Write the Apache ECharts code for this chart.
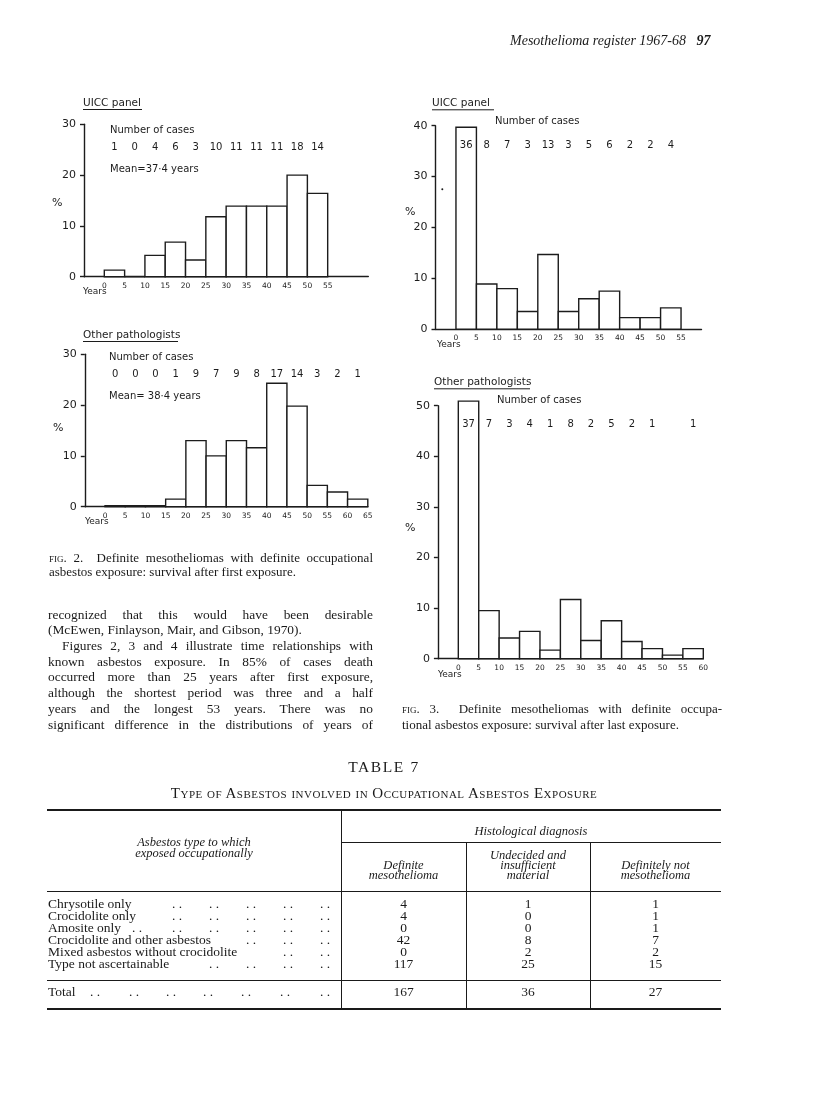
<!DOCTYPE html>
<html>
<head>
<meta charset="utf-8">
<title>Mesothelioma register 1967-68</title>
<script src="https://cdn.jsdelivr.net/npm/echarts@6.0.0/dist/echarts.min.js"></script>
<style>
html, body { margin: 0; padding: 0; background: #fff; }
#page { position: relative; width: 816px; height: 1107px; overflow: hidden; background: #fff; }
#chart { position: absolute; left: 0; top: 0; width: 816px; height: 1107px; }
.ln { position: absolute; white-space: nowrap; height: 16px; line-height: 16px;
      font-family: "Liberation Serif", "DejaVu Serif", serif; font-size: 13.4px; color: #1a1a1a; }
.j { text-align: justify; text-align-last: justify; }
.it { font-style: italic; }
.sc { font-variant: small-caps; }
.rule { position: absolute; background: #1a1a1a; }
</style>
</head>
<body>
<div id="page">
<div id="chart"></div>

<div class="ln it" style="left:510px;top:33px;font-size:14px">Mesothelioma register 1967-68&nbsp;&nbsp;&nbsp;<b>97</b></div>

<div class="ln j" style="left:49px;width:324px;top:550px;font-size:13px"><span class="sc">fig</span>. 2.&nbsp;&nbsp;Definite mesotheliomas with definite occupational</div>
<div class="ln" style="left:49px;width:324px;top:564px;font-size:13px">asbestos exposure: survival after first exposure.</div>

<div class="ln j" style="left:48px;width:325px;top:607px">recognized that this would have been desirable</div>
<div class="ln" style="left:48px;width:325px;top:622px">(McEwen, Finlayson, Mair, and Gibson, 1970).</div>
<div class="ln j" style="left:62px;width:311px;top:638px">Figures 2, 3 and 4 illustrate time relationships with</div>
<div class="ln j" style="left:48px;width:325px;top:654px">known asbestos exposure. In 85% of cases death</div>
<div class="ln j" style="left:48px;width:325px;top:669px">occurred more than 25 years after first exposure,</div>
<div class="ln j" style="left:48px;width:325px;top:685px">although the shortest period was three and a half</div>
<div class="ln j" style="left:48px;width:325px;top:701px">years and the longest 53 years. There was no</div>
<div class="ln j" style="left:48px;width:325px;top:717px">significant difference in the distributions of years of</div>

<div class="ln j" style="left:402px;width:320px;top:701px;font-size:13px"><span class="sc">fig</span>. 3.&nbsp;&nbsp;Definite mesotheliomas with definite occupa-</div>
<div class="ln" style="left:402px;width:320px;top:717px;font-size:13px">tional asbestos exposure: survival after last exposure.</div>
</div>

<script>
// fig. 2 / fig. 3: percentage of cases per 5-year bin
var binsTo55 = [0, 5, 10, 15, 20, 25, 30, 35, 40, 45, 50];
var binsTo60 = [0, 5, 10, 15, 20, 25, 30, 35, 40, 45, 50, 55];
var binsTo65 = [0, 5, 10, 15, 20, 25, 30, 35, 40, 45, 50, 55, 60];

var uiccFirstPct   = [1.3, 0, 4.2, 6.8, 3.3, 11.8, 13.9, 13.9, 13.9, 20.0, 16.4];
var uiccFirstCases = [1, 0, 4, 6, 3, 10, 11, 11, 11, 18, 14];

var otherFirstPct   = [0.2, 0.2, 0.2, 1.5, 13.0, 10.0, 13.0, 11.6, 24.3, 19.8, 4.2, 2.9, 1.5];
var otherFirstCases = [0, 0, 0, 1, 9, 7, 9, 8, 17, 14, 3, 2, 1];

var uiccLastPct   = [39.7, 8.9, 8.0, 3.5, 14.7, 3.5, 6.0, 7.5, 2.3, 2.3, 4.2];
var uiccLastCases = [36, 8, 7, 3, 13, 3, 5, 6, 2, 2, 4];

var otherLastPct   = [50.9, 9.5, 4.1, 5.4, 1.7, 11.7, 3.6, 7.5, 3.4, 2.0, 0.7, 2.0];
var otherLastCases = [37, 7, 3, 4, 1, 8, 2, 5, 2, 1, null, 1];

// table 7
var asbestosTypes = ['Chrysotile only', 'Crocidolite only', 'Amosite only', 'Crocidolite and other asbestos',
                     'Mixed asbestos without crocidolite', 'Type not ascertainable'];
var definiteMeso  = [4, 4, 0, 42, 0, 117];
var undecided     = [1, 0, 0, 8, 2, 25];
var definitelyNot = [1, 1, 1, 7, 2, 15];
var columnTotals  = [167, 36, 27];

var INK = '#1c1c1c';
var FONT = '"DejaVu Sans", sans-serif';
var BIN = 5;

var panels = [
    { bins: binsTo55, pct: uiccFirstPct, cases: uiccFirstCases, grid: { left: 84, top: 124.3, width: 284.3, height: 152.4 },
      xMax: 65, lastTick: 55, yMax: 30, caseLevel: 25.5 },
    { bins: binsTo65, pct: otherFirstPct, cases: otherFirstCases, grid: { left: 84.8, top: 354.3, width: 283, height: 152.4 },
      xMax: 65, lastTick: 65, yMax: 30, caseLevel: 26.1 },
    { bins: binsTo55, pct: uiccLastPct, cases: uiccLastCases, grid: { left: 435.5, top: 125.7, width: 266, height: 203.6 },
      xMax: 60, lastTick: 55, yMax: 40, caseLevel: 36.2 },
    { bins: binsTo60, pct: otherLastPct, cases: otherLastCases, grid: { left: 437.9, top: 405.7, width: 265.4, height: 253 },
      xMax: 60, lastTick: 60, yMax: 50, caseLevel: 46.3 }
];

function renderBin(params, api) {
    var x0 = api.value(0), v = api.value(1);
    var p0 = api.coord([x0, 0]);
    var p1 = api.coord([x0 + BIN, v]);
    return {
        type: 'rect',
        shape: { x: p0[0], y: p1[1], width: p1[0] - p0[0], height: p0[1] - p1[1] },
        style: { fill: '#fff', stroke: INK, lineWidth: 1.4 }
    };
}

function renderCount(params, api) {
    var p = api.coord([api.value(0), api.value(1)]);
    return {
        type: 'text',
        x: p[0], y: p[1],
        style: { text: String(api.value(2)), fill: INK, font: '10px ' + FONT,
                 align: 'center', verticalAlign: 'middle', textAlign: 'center', textVerticalAlign: 'middle' }
    };
}

var grid = [], xAxis = [], yAxis = [], series = [];
panels.forEach(function (pn, i) {
    grid.push(pn.grid);
    xAxis.push({
        type: 'value', gridIndex: i, min: -5, max: pn.xMax, interval: 5,
        axisLine: { lineStyle: { color: INK, width: 1.4 } },
        axisTick: { show: false }, splitLine: { show: false },
        axisLabel: { color: INK, fontSize: 7.5, fontFamily: FONT, margin: 5, showMaxLabel: true,
            formatter: function (v) { return (v >= 0 && v <= pn.lastTick) ? String(v) : ''; } }
    });
    yAxis.push({
        type: 'value', gridIndex: i, min: 0, max: pn.yMax, interval: 10,
        axisLine: { show: true, onZero: false, lineStyle: { color: INK, width: 1.4 } },
        axisTick: { show: true, length: 4, lineStyle: { color: INK, width: 1.4 } },
        splitLine: { show: false },
        axisLabel: { color: INK, fontSize: 11, fontFamily: FONT, margin: 8 }
    });
    series.push({
        type: 'custom', xAxisIndex: i, yAxisIndex: i, clip: false,
        renderItem: renderBin, encode: { x: 0, y: 1 },
        data: pn.bins.map(function (b, k) { return [b, pn.pct[k]]; })
    });
    var counts = [];
    pn.bins.forEach(function (b, k) {
        if (pn.cases[k] !== null) counts.push([b + BIN / 2, pn.caseLevel, pn.cases[k]]);
    });
    series.push({
        type: 'custom', xAxisIndex: i, yAxisIndex: i, clip: false,
        renderItem: renderCount, encode: { x: 0, y: 1 }, data: counts
    });
});

function label(text, x, y, size) {
    return { type: 'text', x: x, y: y, silent: true,
        style: { text: text, fill: INK, font: (size || 10) + 'px ' + FONT,
                 align: 'left', verticalAlign: 'middle', textAlign: 'left', textVerticalAlign: 'middle' } };
}
function underline(x1, x2, y) {
    return { type: 'line', silent: true, shape: { x1: x1, y1: y, x2: x2, y2: y }, style: { stroke: INK, lineWidth: 1 } };
}

var graphic = [
    label('UICC panel', 83, 103, 10.5), underline(83, 142, 109.5),
    label('Number of cases', 110, 130.7), label('Mean=37·4 years', 110, 169),
    label('%', 52, 203, 11), label('Years', 83, 292, 9),

    label('Other pathologists', 83, 335, 10.5), underline(83, 178, 341.5),
    label('Number of cases', 109, 357.7), label('Mean= 38·4 years', 109, 396.7),
    label('%', 53, 428, 11), label('Years', 85, 521.7, 9),

    label('UICC panel', 432, 103.3, 10.5), underline(432, 494, 109.8),
    label('Number of cases', 495, 121),
    label('%', 405, 211.7, 11), label('Years', 437, 345, 9),
    { type: 'circle', silent: true, shape: { cx: 442.3, cy: 189.3, r: 1 }, style: { fill: INK } },

    label('Other pathologists', 434, 382.3, 10.5), underline(434, 530, 388.8),
    label('Number of cases', 497, 400),
    label('%', 405, 528.3, 11), label('Years', 438, 675, 9)
];

var chart = echarts.init(document.getElementById('chart'));
chart.setOption({
    animation: false,
    backgroundColor: 'transparent',
    grid: grid, xAxis: xAxis, yAxis: yAxis, series: series, graphic: graphic
});

// ---- table 7 ----
var page = document.getElementById('page');
function put(html, x, y, opts) {
    opts = opts || {};
    var d = document.createElement('div');
    d.className = 'ln' + (opts.cls ? ' ' + opts.cls : '');
    d.innerHTML = html;
    var w = opts.width || 240;
    if (opts.center) { d.style.left = (x - w / 2) + 'px'; d.style.width = w + 'px'; d.style.textAlign = 'center'; }
    else d.style.left = x + 'px';
    d.style.top = (y - 8) + 'px';
    if (opts.size) d.style.fontSize = opts.size + 'px';
    if (opts.ls) d.style.letterSpacing = opts.ls + 'px';
    page.appendChild(d);
}
function rule(x, y, w, h) {
    var d = document.createElement('div');
    d.className = 'rule';
    d.style.left = x + 'px'; d.style.top = y + 'px';
    d.style.width = w + 'px'; d.style.height = h + 'px';
    page.appendChild(d);
}

var TL = 47, TR = 721, C1 = 341, C2 = 466, C3 = 590;
var colMid = [(C1 + C2) / 2, (C2 + C3) / 2, (C3 + TR) / 2];
var ROW = 13.5;

put('TABLE&nbsp;7', (TL + TR) / 2, 767, { center: true, size: 15.5, ls: 1.6 });
put('Type of Asbestos involved in Occupational Asbestos Exposure', (TL + TR) / 2, 793,
    { center: true, width: 640, size: 15, cls: 'sc', ls: 0.5 });

rule(TL, 809, TR - TL, 2);
rule(C1, 841.5, TR - C1, 1);
rule(TL, 890.5, TR - TL, 1);
rule(TL, 979.5, TR - TL, 1);
rule(TL, 1008, TR - TL, 2);
rule(C1, 810, 1, 199);
rule(C2, 842, 1, 167);
rule(C3, 842, 1, 167);

var hs = { center: true, cls: 'it', size: 12.5 };
put('Histological diagnosis', (C1 + TR) / 2, 831, hs);
put('Asbestos type to which', (TL + C1) / 2, 842, hs);
put('exposed occupationally', (TL + C1) / 2, 853, hs);
put('Undecided and', colMid[1], 855, hs);
put('insufficient', colMid[1], 865, hs);
put('material', colMid[1], 875, hs);
put('Definite', colMid[0], 865, hs);
put('mesothelioma', colMid[0], 875, hs);
put('Definitely not', colMid[2], 865, hs);
put('mesothelioma', colMid[2], 875, hs);

var leaderX = [132, 172, 209, 246, 283, 320];
var leaderFrom = [1, 1, 0, 3, 4, 2];
asbestosTypes.forEach(function (name, r) {
    var y = 904 + r * 12;
    put(name, 48, y, { size: ROW });
    for (var k = leaderFrom[r]; k < leaderX.length; k++) put('.&nbsp;.', leaderX[k], y, { size: ROW });
    put(String(definiteMeso[r]), colMid[0], y, { center: true, width: 60, size: ROW });
    put(String(undecided[r]), colMid[1], y, { center: true, width: 60, size: ROW });
    put(String(definitelyNot[r]), colMid[2], y, { center: true, width: 60, size: ROW });
});
put('Total', 48, 992, { size: ROW });
[90, 129, 166, 203, 241, 280, 320].forEach(function (x) { put('.&nbsp;.', x, 992, { size: ROW }); });
columnTotals.forEach(function (t, k) { put(String(t), colMid[k], 992, { center: true, width: 60, size: ROW }); });

// squeeze justified lines that are wider than their column
Array.prototype.forEach.call(document.querySelectorAll('.ln.j'), function (el) {
    var over = el.scrollWidth - el.clientWidth;
    if (over > 0) el.style.letterSpacing = (-over / el.textContent.length - 0.02) + 'px';
});
</script>
</body>
</html>
